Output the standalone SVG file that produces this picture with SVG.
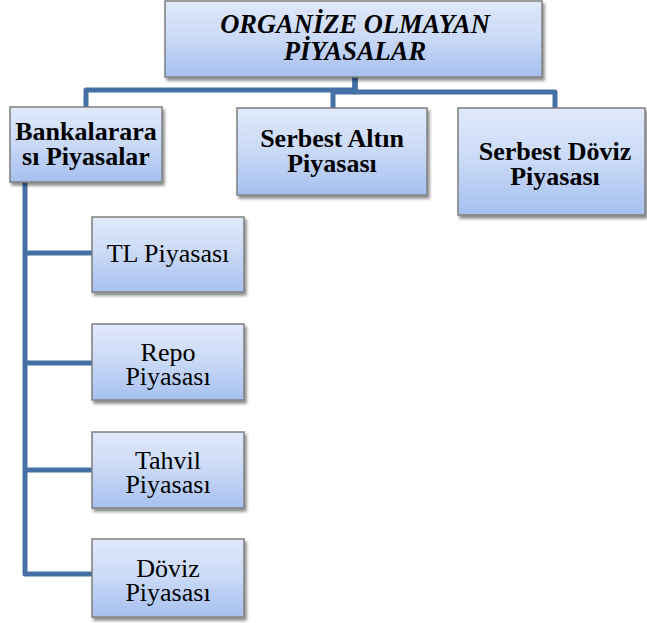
<svg xmlns="http://www.w3.org/2000/svg" width="647" height="623" viewBox="0 0 647 623">
<defs>
<linearGradient id="g" x1="0" y1="0" x2="0" y2="1">
<stop offset="0" stop-color="#e1e9fb"/>
<stop offset="0.5" stop-color="#c9d9f6"/>
<stop offset="1" stop-color="#a6c0f0"/>
</linearGradient>
<filter id="sh" x="-10%" y="-10%" width="125%" height="130%">
<feDropShadow dx="2" dy="3" stdDeviation="1.8" flood-color="#000" flood-opacity="0.45"/>
</filter>
<style>
.box{fill:url(#g);stroke:#7f7f7f;stroke-width:1.5;filter:url(#sh)}
.c{fill:none;stroke:#4470a6;stroke-width:5;stroke-linejoin:round;stroke-linecap:butt}
text{font-family:"Liberation Serif","Times New Roman",serif;fill:#000;text-anchor:middle}
.b{font-weight:bold;font-size:26px}
.bi{font-weight:bold;font-style:italic;font-size:26.5px}
.r{font-size:26px}
</style>
</defs>
<g id="connectors">
<path class="c" d="M355 77 V90 H86 V107"/>
<path class="c" d="M355 77 V92 H333 V108"/>
<path class="c" d="M355 77 V92 H555 V108"/>
<path class="c" d="M25 182 V574 H92"/>
<path class="c" d="M25 253 H92"/>
<path class="c" d="M25 363 H92"/>
<path class="c" d="M25 470 H92"/>
</g>
<g id="root">
<rect class="box" x="165" y="1" width="377" height="76"/>
<text class="bi" x="355" y="33">ORGANİZE OLMAYAN</text>
<text class="bi" x="355" y="60">PİYASALAR</text>
</g>
<g id="bankalararasi">
<rect class="box" x="10" y="107" width="152" height="75"/>
<text class="b" x="86" y="140">Bankalarara</text>
<text class="b" x="86" y="165">sı Piyasalar</text>
</g>
<g id="serbest-altin">
<rect class="box" x="237" y="108" width="190" height="87"/>
<text class="b" x="332" y="147">Serbest Altın</text>
<text class="b" x="332" y="172">Piyasası</text>
</g>
<g id="serbest-doviz">
<rect class="box" x="458" y="108" width="187" height="107"/>
<text class="b" x="555" y="160">Serbest Döviz</text>
<text class="b" x="555" y="185">Piyasası</text>
</g>
<g id="tl">
<rect class="box" x="92" y="217" width="152" height="75"/>
<text class="r" x="168" y="262">TL Piyasası</text>
</g>
<g id="repo">
<rect class="box" x="92" y="324" width="152" height="76"/>
<text class="r" x="168" y="361">Repo</text>
<text class="r" x="168" y="385">Piyasası</text>
</g>
<g id="tahvil">
<rect class="box" x="92" y="432" width="152" height="76"/>
<text class="r" x="168" y="469">Tahvil</text>
<text class="r" x="168" y="493">Piyasası</text>
</g>
<g id="doviz">
<rect class="box" x="92" y="539" width="152" height="78"/>
<text class="r" x="168" y="577">Döviz</text>
<text class="r" x="168" y="601">Piyasası</text>
</g>
</svg>
